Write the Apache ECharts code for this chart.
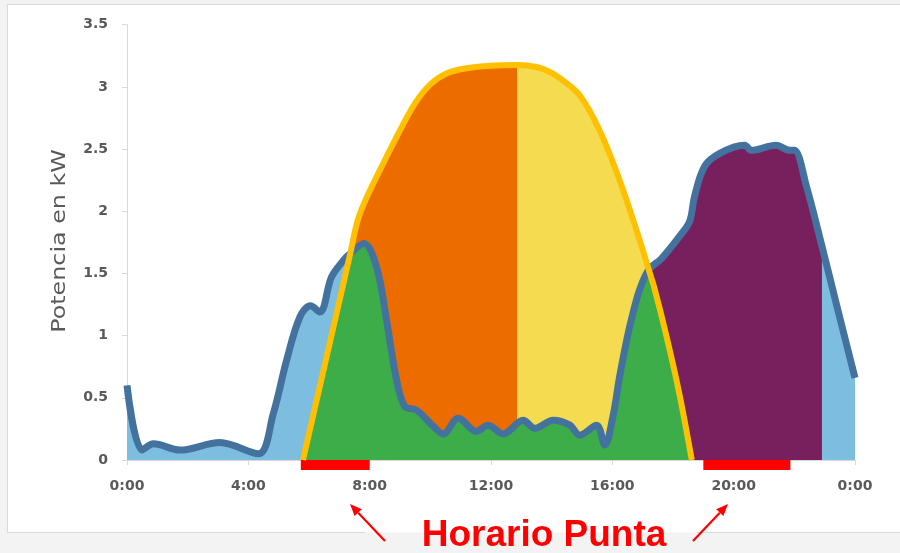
<!DOCTYPE html>
<html>
<head>
<meta charset="utf-8">
<title>Potencia en kW</title>
<script src="https://cdn.jsdelivr.net/npm/echarts@6/dist/echarts.min.js"></script>
<style>
  html, body { margin: 0; padding: 0; background: #f3f3f3; }
  #chart { width: 900px; height: 553px; }
</style>
</head>
<body>
<div id="chart"></div>
<script>
// Household load profile over one day (hours, kW)
const loadHours = [0, 0.5, 0.87, 1.75, 3.06, 4.33, 4.82, 5.26, 5.70, 6.05, 6.36, 6.74, 7.12, 7.36, 7.81, 8.23, 8.56, 8.89, 9.16, 9.55, 10.1, 10.42, 10.92, 11.52, 11.9, 12.4, 13.06, 13.44, 14.05, 14.6, 14.93, 15.48, 15.75, 16.02, 16.24, 16.47, 16.68, 16.9, 17.2, 17.62, 18.22, 18.55, 18.71, 19.04, 19.54, 20.36, 20.58, 21.4, 21.85, 22.0, 22.4, 22.91, 23.38, 24];
const loadKW    = [0.60, 0.08, 0.13, 0.08, 0.14, 0.05, 0.37, 0.80, 1.15, 1.24, 1.19, 1.47, 1.60, 1.66, 1.74, 1.55, 1.12, 0.64, 0.43, 0.40, 0.27, 0.21, 0.335, 0.23, 0.28, 0.21, 0.32, 0.255, 0.32, 0.28, 0.20, 0.28, 0.12, 0.35, 0.67, 0.96, 1.18, 1.37, 1.53, 1.62, 1.80, 1.92, 2.12, 2.36, 2.465, 2.53, 2.49, 2.53, 2.49, 2.49, 2.20, 1.72, 1.26, 0.66];

// PV generation curve (hours, kW)
const solarHours = [5.8, 6.74, 7.36, 7.61, 7.9, 8.5, 9.0, 9.5, 10.0, 10.55, 11.2, 12.0, 12.87, 13.5, 13.94, 14.38, 14.93, 15.58, 16.24, 16.9, 17.2, 17.4, 17.82, 18.22, 18.62];
const solarKW    = [0, 1.0, 1.66, 1.93, 2.11, 2.41, 2.65, 2.87, 3.02, 3.11, 3.15, 3.17, 3.175, 3.16, 3.12, 3.05, 2.93, 2.65, 2.25, 1.77, 1.53, 1.37, 0.96, 0.52, 0];

// Hours where load and generation meet, split of the surplus, end of evening block
const crossHours = [7.36, 17.2];
const surplusSplitHour = 12.87;
const eveningEndHour = 22.91;

// Peak tariff periods [start, end] in hours
const peakBands = [[5.73, 8.0], [19.0, 21.87]];

const xTicks = [0, 4, 8, 12, 16, 20, 24];

const loadPts = loadHours.map((h, i) => [h, loadKW[i]]);
const solarPts = solarHours.map((h, i) => [h, solarKW[i]]);

// Self-consumed energy: generation up to the first crossing, load between, generation after
const selfPts = solarPts.filter(p => p[0] <= crossHours[0])
  .concat(loadPts.filter(p => p[0] > crossHours[0] && p[0] < crossHours[1]))
  .concat(solarPts.filter(p => p[0] >= crossHours[1]));
const eveningPts = loadPts.filter(p => p[0] >= crossHours[1] && p[0] <= eveningEndHour);
const surplusAm = solarPts.filter(p => p[0] <= surplusSplitHour);
const surplusPm = solarPts.filter(p => p[0] >= surplusSplitHour);

const SMOOTH = 0.35;
function areaSeries(name, data, color) {
  return {
    name, type: 'line', data, smooth: SMOOTH, symbol: 'none', silent: true,
    lineStyle: { width: 0 }, areaStyle: { color: color, opacity: 1 }
  };
}

const chart = echarts.init(document.getElementById('chart'));
chart.setOption({
  backgroundColor: '#f3f3f3',
  animation: false,
  grid: { left: 127, right: 45, top: 24.7, bottom: 93 },
  xAxis: {
    type: 'value', min: 0, max: 24, interval: 4,
    axisLine: { lineStyle: { color: '#d9d9d9', width: 1 } },
    axisTick: { show: true, length: 5, lineStyle: { color: '#d9d9d9' } },
    splitLine: { show: false },
    axisLabel: {
      margin: 19, color: '#595959', fontSize: 14, fontWeight: 'bold',
      fontFamily: 'DejaVu Sans',
      customValues: xTicks,
      formatter: v => (v % 24) + ':00'
    }
  },
  yAxis: {
    type: 'value', min: 0, max: 3.5, interval: 0.5,
    axisLine: { show: true, lineStyle: { color: '#d9d9d9', width: 1 } },
    axisTick: { show: true, length: 5, lineStyle: { color: '#d9d9d9' } },
    splitLine: { show: false },
    axisLabel: {
      margin: 19, color: '#595959', fontSize: 14, fontWeight: 'bold',
      fontFamily: 'DejaVu Sans'
    }
  },
  graphic: [
    { type: 'rect', z: -10, silent: true, shape: { x: 7.5, y: 4.5, width: 900, height: 528 },
      style: { fill: '#ffffff', stroke: null } },
    { type: 'line', z: -9, silent: true, shape: { x1: 7.5, y1: 4.5, x2: 900, y2: 4.5 }, style: { stroke: '#d9d9d9', lineWidth: 1 } },
    { type: 'line', z: -9, silent: true, shape: { x1: 7.5, y1: 4.5, x2: 7.5, y2: 532.5 }, style: { stroke: '#d9d9d9', lineWidth: 1 } },
    { type: 'line', z: -9, silent: true, shape: { x1: 7.5, y1: 532.5, x2: 365, y2: 532.5 }, style: { stroke: '#d9d9d9', lineWidth: 1 } },
    { type: 'line', z: -9, silent: true, shape: { x1: 697, y1: 532.5, x2: 900, y2: 532.5 }, style: { stroke: '#d9d9d9', lineWidth: 1 } },
    // Axis title
    { type: 'text', z: 50, silent: true, x: 60, y: 241, rotation: Math.PI / 2, scaleX: 1.19,
      style: { text: 'Potencia en kW', font: '20px "DejaVu Sans"', fill: '#595959',
               textAlign: 'center', textVerticalAlign: 'middle' } },
    // Peak-hours caption with pointers
    { type: 'text', z: 50, silent: true, x: 544, y: 536,
      style: { text: 'Horario Punta', font: 'bold 37px "Liberation Sans"', fill: '#ff0000',
               textAlign: 'center', textVerticalAlign: 'middle' } },
    { type: 'line', z: 50, silent: true, shape: { x1: 385, y1: 541, x2: 358.2, y2: 512.7 },
      style: { stroke: '#ff0000', lineWidth: 2.2 } },
    { type: 'polygon', z: 50, silent: true, shape: { points: [[350, 504], [361.8, 509.3], [354.6, 516.1]] },
      style: { fill: '#ff0000' } },
    { type: 'line', z: 50, silent: true, shape: { x1: 693, y1: 541, x2: 719.8, y2: 512.7 },
      style: { stroke: '#ff0000', lineWidth: 2.2 } },
    { type: 'polygon', z: 50, silent: true, shape: { points: [[728, 504], [723.4, 516.1], [716.2, 509.3]] },
      style: { fill: '#ff0000' } }
  ],
  series: [
    areaSeries('Consumo de red', loadPts, '#7dbde0'),
    areaSeries('Consumo nocturno', eveningPts, '#78205d'),
    areaSeries('Excedente mañana', surplusAm, '#ec6c00'),
    areaSeries('Excedente tarde', surplusPm, '#f5db50'),
    areaSeries('Autoconsumo', selfPts, '#3dad4a'),
    {
      name: 'Consumo', type: 'line', data: loadPts, smooth: SMOOTH, symbol: 'none', silent: true,
      lineStyle: { color: '#44729f', width: 7, cap: 'butt', join: 'round' }
    },
    {
      name: 'Generación', type: 'line', data: solarPts, smooth: SMOOTH, symbol: 'none', silent: true,
      lineStyle: { color: '#ffc000', width: 6, cap: 'butt', join: 'round' }
    },
    {
      name: 'Horario punta', type: 'custom', clip: false, silent: true, data: peakBands,
      renderItem: function (params, api) {
        const a = api.coord([api.value(0), 0]);
        const b = api.coord([api.value(1), 0]);
        return { type: 'rect', shape: { x: a[0], y: a[1], width: b[0] - a[0], height: 10 },
                 style: { fill: '#ff0000' } };
      }
    }
  ]
});
</script>
</body>
</html>
